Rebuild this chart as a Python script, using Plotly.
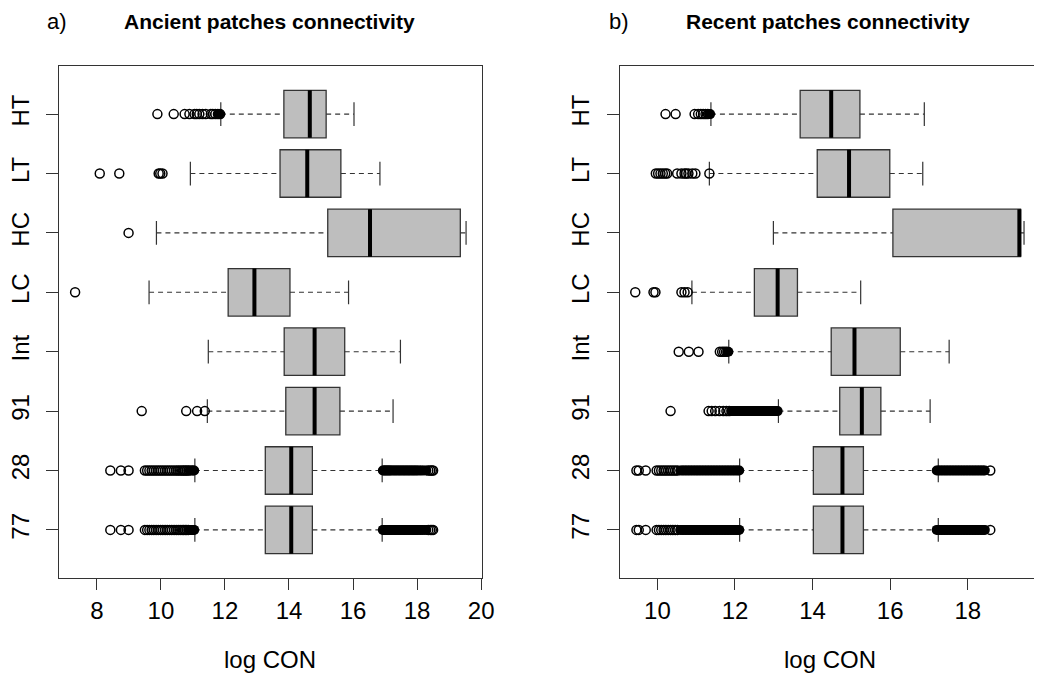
import plotly.graph_objects as go

# Group labels, bottom to top
groups = ["77", "28", "91", "Int", "LC", "HC", "LT", "HT"]
positions = [1, 2, 3, 4, 5, 6, 7, 8]

# ---- a) Ancient patches: box statistics (log CON), in the order of `groups`
anc_lowwhisk = [11.06, 11.06, 11.45, 11.48, 9.63, 9.86, 10.92, 11.87]
anc_q1 = [13.26, 13.26, 13.90, 13.85, 12.10, 15.21, 13.72, 13.84]
anc_median = [14.07, 14.07, 14.80, 14.80, 12.92, 16.53, 14.57, 14.65]
anc_q3 = [14.73, 14.73, 15.59, 15.74, 14.03, 19.35, 15.62, 15.16]
anc_highwhisk = [16.91, 16.91, 17.25, 17.48, 15.86, 19.53, 16.84, 16.03]

# Ancient patches: isolated outlying values per group (open circles)
anc_out_77 = [8.42, 8.75, 8.99, 9.50, 9.57, 9.64, 9.71, 9.78, 9.85, 9.92, 9.99, 10.06,
              10.13, 10.20, 10.27, 10.34, 10.41, 10.48, 10.54, 10.60, 10.66, 10.71, 10.76,
              10.81, 10.86, 18.35, 18.41, 18.46, 18.50]
anc_out_28 = [8.42, 8.75, 8.99, 9.50, 9.57, 9.64, 9.71, 9.78, 9.85, 9.92, 9.99, 10.06,
              10.13, 10.20, 10.27, 10.34, 10.41, 10.48, 10.54, 10.60, 10.66, 10.71, 10.76,
              10.81, 10.86, 18.35, 18.41, 18.46, 18.50]
anc_out_91 = [9.40, 10.79, 11.13, 11.37]
anc_out_Int = []
anc_out_LC = [7.32]
anc_out_HC = [8.99]
anc_out_LT = [8.09, 8.70, 9.93, 9.98, 10.05]
anc_out_HT = [9.89, 10.40, 10.74, 10.89, 11.05, 11.12, 11.20, 11.30, 11.40, 11.56,
              11.62, 11.70, 11.78, 11.85]

# Ancient patches: heavily overplotted runs of outliers (solid bands)
anc_band_77 = [10.90, 10.94, 10.98, 11.01, 11.04,
               16.93, 16.96, 16.99, 17.02, 17.05, 17.08, 17.11, 17.14, 17.17, 17.21, 17.25,
               17.29, 17.33, 17.37, 17.41, 17.45, 17.49, 17.53, 17.57, 17.61, 17.65, 17.69,
               17.73, 17.77, 17.81, 17.85, 17.89, 17.93, 17.97, 18.01, 18.06, 18.11, 18.16,
               18.22, 18.29]
anc_band_28 = [10.90, 10.94, 10.98, 11.01, 11.04,
               16.93, 16.96, 16.99, 17.02, 17.05, 17.08, 17.11, 17.14, 17.17, 17.21, 17.25,
               17.29, 17.33, 17.37, 17.41, 17.45, 17.49, 17.53, 17.57, 17.61, 17.65, 17.69,
               17.73, 17.77, 17.81, 17.85, 17.89, 17.93, 17.97, 18.01, 18.06, 18.11, 18.16,
               18.22, 18.29]
anc_band_91 = []
anc_band_Int = []
anc_band_LC = []
anc_band_HC = []
anc_band_LT = []
anc_band_HT = [11.80, 11.83]

# ---- b) Recent patches: box statistics
rec_lowwhisk = [12.12, 12.12, 13.12, 11.84, 10.89, 12.99, 11.34, 11.38]
rec_q1 = [14.02, 14.02, 14.70, 14.48, 12.50, 16.07, 14.12, 13.68]
rec_median = [14.77, 14.77, 15.27, 15.08, 13.10, 19.33, 14.94, 14.48]
rec_q3 = [15.31, 15.31, 15.76, 16.26, 13.61, 19.36, 15.99, 15.22]
rec_highwhisk = [17.24, 17.24, 17.03, 17.52, 15.24, 19.45, 16.84, 16.88]

# Recent patches: isolated outlying values per group (open circles)
rec_out_77 = [9.46, 9.52, 9.70, 9.98, 10.04, 10.10, 10.16, 10.22, 10.28, 10.34, 10.40,
              10.46, 10.52, 18.58]
rec_out_28 = [9.46, 9.52, 9.70, 9.98, 10.04, 10.10, 10.16, 10.22, 10.28, 10.34, 10.40,
              10.46, 10.52, 18.58]
rec_out_91 = [10.34, 11.32, 11.40, 11.49, 11.60, 11.70, 11.78, 11.85]
rec_out_Int = [10.55, 10.81, 11.06, 11.61, 11.67, 11.72, 11.77]
rec_out_LC = [9.43, 9.90, 9.95, 10.62, 10.70, 10.78]
rec_out_HC = []
rec_out_LT = [9.96, 10.02, 10.08, 10.14, 10.20, 10.25, 10.51, 10.62, 10.70, 10.74, 10.80,
              10.90, 10.98, 11.34]
rec_out_HT = [10.21, 10.47, 10.96, 11.05, 11.12, 11.18, 11.24, 11.30]

# Recent patches: heavily overplotted runs of outliers (solid bands)
rec_band_77 = [10.60, 10.64, 10.68, 10.72, 10.76, 10.80, 10.84, 10.88, 10.92, 10.96,
               11.00, 11.04, 11.08, 11.12, 11.16, 11.20, 11.24, 11.28, 11.32, 11.36, 11.40,
               11.44, 11.48, 11.52, 11.56, 11.60, 11.64, 11.68, 11.72, 11.76, 11.80, 11.84,
               11.88, 11.92, 11.96, 12.00, 12.04, 12.08, 12.11,
               17.20, 17.24, 17.28, 17.32, 17.36, 17.40, 17.44, 17.48, 17.52, 17.56, 17.60,
               17.64, 17.68, 17.72, 17.76, 17.80, 17.84, 17.88, 17.92, 17.96, 18.00, 18.04,
               18.08, 18.12, 18.16, 18.20, 18.24, 18.28, 18.32, 18.36, 18.40, 18.44]
rec_band_28 = [10.60, 10.64, 10.68, 10.72, 10.76, 10.80, 10.84, 10.88, 10.92, 10.96,
               11.00, 11.04, 11.08, 11.12, 11.16, 11.20, 11.24, 11.28, 11.32, 11.36, 11.40,
               11.44, 11.48, 11.52, 11.56, 11.60, 11.64, 11.68, 11.72, 11.76, 11.80, 11.84,
               11.88, 11.92, 11.96, 12.00, 12.04, 12.08, 12.11,
               17.20, 17.24, 17.28, 17.32, 17.36, 17.40, 17.44, 17.48, 17.52, 17.56, 17.60,
               17.64, 17.68, 17.72, 17.76, 17.80, 17.84, 17.88, 17.92, 17.96, 18.00, 18.04,
               18.08, 18.12, 18.16, 18.20, 18.24, 18.28, 18.32, 18.36, 18.40, 18.44]
rec_band_91 = [11.90, 11.94, 11.98, 12.02, 12.06, 12.10, 12.14, 12.18, 12.22, 12.26,
               12.30, 12.34, 12.38, 12.42, 12.46, 12.50, 12.54, 12.58, 12.62, 12.66, 12.70,
               12.74, 12.78, 12.82, 12.86, 12.90, 12.94, 12.98, 13.02, 13.06, 13.10]
rec_band_Int = [11.80, 11.83]
rec_band_LC = []
rec_band_HC = []
rec_band_LT = []
rec_band_HT = [11.33, 11.36]

anc_outliers = [anc_out_77, anc_out_28, anc_out_91, anc_out_Int,
                anc_out_LC, anc_out_HC, anc_out_LT, anc_out_HT]
anc_bands = [anc_band_77, anc_band_28, anc_band_91, anc_band_Int,
             anc_band_LC, anc_band_HC, anc_band_LT, anc_band_HT]
rec_outliers = [rec_out_77, rec_out_28, rec_out_91, rec_out_Int,
                rec_out_LC, rec_out_HC, rec_out_LT, rec_out_HT]
rec_bands = [rec_band_77, rec_band_28, rec_band_91, rec_band_Int,
             rec_band_LC, rec_band_HC, rec_band_LT, rec_band_HT]

FONT = "Liberation Sans, Arial, sans-serif"
BOX_W = 0.8        # box thickness in group units
STAPLE_W = 0.4     # whisker end-cap length in group units
EDGE = "#333333"


def flatten(per_group):
    xs, ys = [], []
    for p, vals in zip(positions, per_group):
        xs += vals
        ys += [p] * len(vals)
    return xs, ys


def add_panel(fig, lo, q1, med, q3, hi, outliers, bands, xa, ya):
    # dashed whiskers
    wx, wy = [], []
    for p, a, b, c, d in zip(positions, lo, q1, q3, hi):
        wx += [a, b, None, c, d, None]
        wy += [p, p, None, p, p, None]
    fig.add_trace(go.Scatter(x=wx, y=wy, mode="lines", xaxis=xa, yaxis=ya,
                             line=dict(color=EDGE, width=1.1, dash="5px,4px"),
                             hoverinfo="skip", showlegend=False))
    # whisker end caps
    sx, sy = [], []
    for p, a, d in zip(positions, lo, hi):
        sx += [a, a, None, d, d, None]
        sy += [p - STAPLE_W / 2, p + STAPLE_W / 2, None,
               p - STAPLE_W / 2, p + STAPLE_W / 2, None]
    fig.add_trace(go.Scatter(x=sx, y=sy, mode="lines", xaxis=xa, yaxis=ya,
                             line=dict(color=EDGE, width=1.2),
                             hoverinfo="skip", showlegend=False))
    # boxes from precomputed quartiles
    fig.add_trace(go.Box(y=positions, q1=q1, median=med, q3=q3,
                         lowerfence=q1, upperfence=q3, orientation="h",
                         width=BOX_W, whiskerwidth=0, boxpoints=False,
                         fillcolor="#BEBEBE", line=dict(color=EDGE, width=1.3),
                         xaxis=xa, yaxis=ya, hoverinfo="skip", showlegend=False))
    # heavy median bars
    mx, my = [], []
    for p, m in zip(positions, med):
        mx += [m, m, None]
        my += [p - BOX_W / 2, p + BOX_W / 2, None]
    fig.add_trace(go.Scatter(x=mx, y=my, mode="lines", xaxis=xa, yaxis=ya,
                             line=dict(color="black", width=4),
                             hoverinfo="skip", showlegend=False))
    # overplotted outlier runs
    bx, by = flatten(bands)
    fig.add_trace(go.Scatter(x=bx, y=by, mode="markers", xaxis=xa, yaxis=ya,
                             marker=dict(symbol="circle", size=10, color="#000000",
                                         line=dict(width=0)),
                             hoverinfo="skip", showlegend=False))
    # isolated outlying points
    ox, oy = flatten(outliers)
    fig.add_trace(go.Scatter(x=ox, y=oy, mode="markers", xaxis=xa, yaxis=ya,
                             marker=dict(symbol="circle-open", size=9, color="#000000",
                                         line=dict(width=1.5)),
                             hoverinfo="skip", showlegend=False))


fig = go.Figure()
add_panel(fig, anc_lowwhisk, anc_q1, anc_median, anc_q3, anc_highwhisk,
          anc_outliers, anc_bands, "x", "y")
add_panel(fig, rec_lowwhisk, rec_q1, rec_median, rec_q3, rec_highwhisk,
          rec_outliers, rec_bands, "x2", "y2")

W, H = 1046, 673
y_dom = [1 - 578 / H, 1 - 66 / H]

common_x = dict(ticks="outside", ticklen=11, tickwidth=1, tickcolor=EDGE,
                showline=True, linecolor=EDGE, linewidth=1, mirror=True,
                showgrid=False, zeroline=False,
                tickfont=dict(family=FONT, size=24, color="black"))
common_y = dict(tickvals=positions, ticktext=groups, tickangle=-90,
                range=[0.19, 8.81], ticks="outside", ticklen=12, tickwidth=1,
                tickcolor=EDGE, showline=True, linecolor=EDGE, linewidth=1,
                showgrid=False, zeroline=False, domain=y_dom, ticklabelstandoff=8,
                tickfont=dict(family=FONT, size=24, color="black"))

fig.update_layout(
    width=W, height=H,
    margin=dict(l=0, r=0, t=0, b=0),
    paper_bgcolor="white", plot_bgcolor="white",
    showlegend=False,
    xaxis=dict(domain=[60 / W, 488 / W], range=[6.827, 20.04],
               tickvals=[8, 10, 12, 14, 16, 18, 20], anchor="y", **common_x),
    yaxis=dict(anchor="x", mirror=True, **common_y),
    xaxis2=dict(domain=[626.7 / W, 1.0], range=[9.024, 19.707],
                tickvals=[10, 12, 14, 16, 18], anchor="y2", **common_x),
    yaxis2=dict(anchor="x2", mirror=False, **common_y),
)

ann = [
    dict(text="a)", x=58 / W, y=1 - 22 / H, font=dict(size=22)),
    dict(text="<b>Ancient patches connectivity</b>", x=273 / W, y=1 - 22 / H,
         font=dict(size=21)),
    dict(text="b)", x=626 / W, y=1 - 22 / H, font=dict(size=22)),
    dict(text="<b>Recent patches connectivity</b>", x=838 / W, y=1 - 22 / H,
         font=dict(size=21)),
    dict(text="log CON", x=273 / W, y=1 - 659 / H, font=dict(size=24)),
    dict(text="log CON", x=840 / W, y=1 - 659 / H, font=dict(size=24)),
]
for a in ann:
    a["font"].update(family=FONT, color="black")
    fig.add_annotation(xref="paper", yref="paper", showarrow=False,
                       xanchor="center", yanchor="middle", **a)

fig.write_html("out.html")
